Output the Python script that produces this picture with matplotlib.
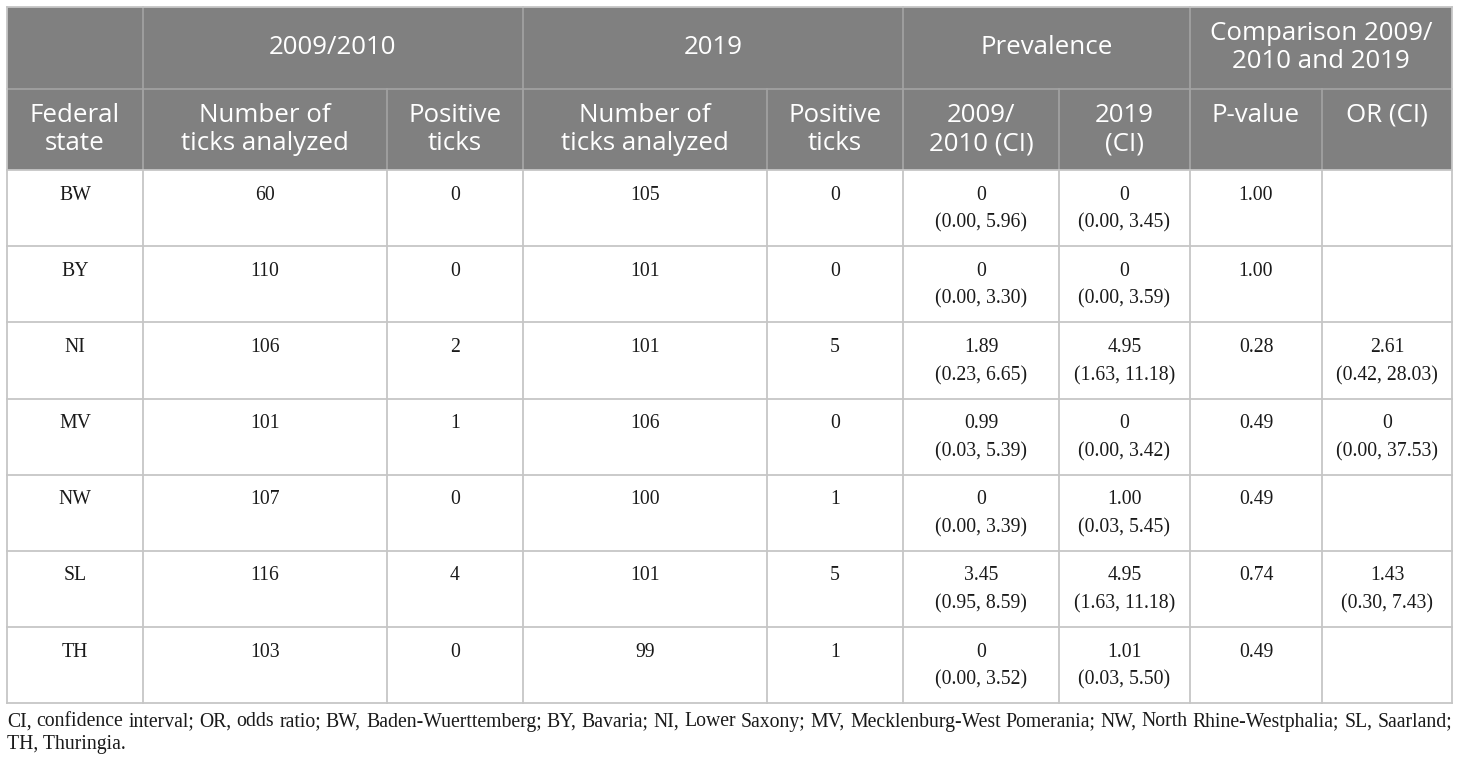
import matplotlib
matplotlib.use('Agg')
import matplotlib.pyplot as plt
from matplotlib.patches import Rectangle

# table data
states = ['BW', 'BY', 'NI', 'MV', 'NW', 'SL', 'TH']
n_2009 = [60, 110, 106, 101, 107, 116, 103]
pos_2009 = [0, 0, 2, 1, 0, 4, 0]
n_2019 = [105, 101, 101, 106, 100, 101, 99]
pos_2019 = [0, 0, 5, 0, 1, 5, 1]
prev_2009 = ['0', '0', '1.89', '0.99', '0', '3.45', '0']
ci_2009 = ['(0.00, 5.96)', '(0.00, 3.30)', '(0.23, 6.65)', '(0.03, 5.39)',
           '(0.00, 3.39)', '(0.95, 8.59)', '(0.00, 3.52)']
prev_2019 = ['0', '0', '4.95', '0', '1.00', '4.95', '1.01']
ci_2019 = ['(0.00, 3.45)', '(0.00, 3.59)', '(1.63, 11.18)', '(0.00, 3.42)',
           '(0.03, 5.45)', '(1.63, 11.18)', '(0.03, 5.50)']
p_values = ['1.00', '1.00', '0.28', '0.49', '0.49', '0.74', '0.49']
odds = ['', '', '2.61', '0', '', '1.43', '']
odds_ci = ['', '', '(0.42, 28.03)', '(0.00, 37.53)', '', '(0.30, 7.43)', '']

group_heads = ['', '2009/2010', '2019', 'Prevalence', 'Comparison 2009/\n2010 and 2019']
sub_heads = ['Federal\nstate', 'Number of\nticks analyzed', 'Positive\nticks',
             'Number of\nticks analyzed', 'Positive\nticks',
             '2009/\n2010 (CI)', '2019\n(CI)', 'P-value', 'OR (CI)']

footnote = ['CI, confidence interval; OR, odds ratio; BW, Baden-Wuerttemberg; BY, Bavaria; '
            'NI, Lower Saxony; MV, Mecklenburg-West Pomerania; NW, North Rhine-Westphalia; SL, Saarland;',
            'TH, Thuringia.']

# layout (pixels)
W, H = 1460, 764
xs = [7, 143, 387, 523, 767, 903, 1059, 1190, 1322, 1452]
group_span = [(0, 1), (1, 3), (3, 5), (5, 7), (7, 9)]
y_top, y_h1, y_h2 = 7, 89, 170
row_h = 76.2
n_rows = len(states)
y_bottom = y_h2 + row_h * n_rows

head_bg = '#808080'
head_line = '#a3a3a3'
body_line = '#c6c6c6'
head_font = 'Open Sans'
body_font = 'Liberation Serif'
head_size = 18.6
body_size = 14.2
ink = '#1a1a1a'

fig = plt.figure(figsize=(W / 100, H / 100), dpi=100)
ax = fig.add_axes([0, 0, 1, 1])
ax.set_xlim(0, W)
ax.set_ylim(H, 0)
ax.axis('off')

# header background
ax.add_patch(Rectangle((xs[0], y_top), xs[-1] - xs[0], y_h2 - y_top,
                       facecolor=head_bg, edgecolor='none', zorder=1))

# header lines
ax.plot([xs[0], xs[-1]], [y_h1, y_h1], color=head_line, lw=1.2, zorder=2)
for a, b in group_span[1:]:
    ax.plot([xs[a], xs[a]], [y_top, y_h2], color=head_line, lw=1.2, zorder=2)
for x in xs[1:-1]:
    ax.plot([x, x], [y_h1, y_h2], color=head_line, lw=1.2, zorder=2)

# header text
for (a, b), label in zip(group_span, group_heads):
    cx = (xs[a] + xs[b]) / 2
    lines = label.split('\n')
    if len(lines) == 1:
        ys = [47]
    else:
        ys = [33, 62]
    for line, yy in zip(lines, ys):
        ax.text(cx, yy, line, ha='center', va='center', color='white',
                fontsize=head_size, family=head_font, zorder=3)
for i, label in enumerate(sub_heads):
    cx = (xs[i] + xs[i + 1]) / 2
    for k, line in enumerate(label.split('\n')):
        ax.text(cx, 115 + 29 * k, line, ha='center', va='center', color='white',
                fontsize=head_size, family=head_font, zorder=3)

# body grid
for r in range(n_rows + 1):
    yy = y_h2 + row_h * r
    ax.plot([xs[0], xs[-1]], [yy, yy], color=body_line, lw=1.3, zorder=2)
for x in xs:
    ax.plot([x, x], [y_h2, y_bottom], color=body_line, lw=1.3, zorder=2)
for x in (xs[0], xs[-1]):
    ax.plot([x, x], [y_top, y_h2], color=body_line, lw=1.3, zorder=2)
ax.plot([xs[0], xs[-1]], [y_top, y_top], color=body_line, lw=1.3, zorder=2)

# body text
for r in range(n_rows):
    cells = [states[r], str(n_2009[r]), str(pos_2009[r]), str(n_2019[r]), str(pos_2019[r]),
             prev_2009[r] + '\n' + ci_2009[r], prev_2019[r] + '\n' + ci_2019[r],
             p_values[r], (odds[r] + '\n' + odds_ci[r]) if odds[r] else '']
    y0 = y_h2 + row_h * r + 25
    for c, txt in enumerate(cells):
        cx = (xs[c] + xs[c + 1]) / 2
        for k, line in enumerate(txt.split('\n')):
            ax.text(cx, y0 + 28 * k, line, ha='center', va='center', color=ink,
                    fontsize=body_size, family=body_font, zorder=3)

# footnote, first line justified
renderer = fig.canvas.get_renderer()
words = footnote[0].split(' ')
arts = [ax.text(0, 722, w, ha='left', va='center', color=ink,
                fontsize=body_size, family=body_font) for w in words]
widths = [t.get_window_extent(renderer).width for t in arts]
gap = (xs[-1] - xs[0] - sum(widths)) / (len(words) - 1)
x = xs[0]
for t, w in zip(arts, widths):
    t.set_x(x)
    x += w + gap
ax.text(xs[0], 744, footnote[1], ha='left', va='center', color=ink,
        fontsize=body_size, family=body_font)

fig.savefig('out.png', dpi=100, facecolor='white')
